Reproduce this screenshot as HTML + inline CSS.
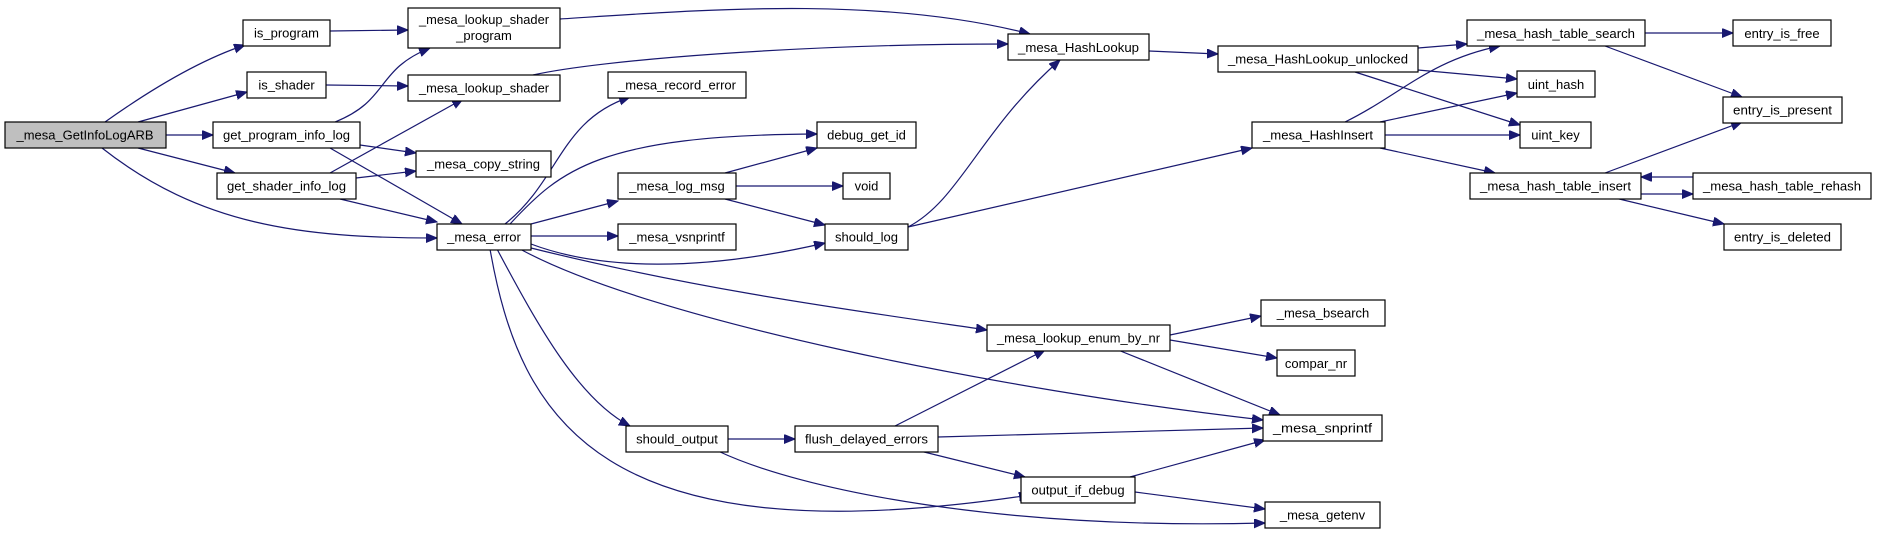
<!DOCTYPE html>
<html><head><meta charset="utf-8"><style>
html,body{margin:0;padding:0;background:#fff;}
svg{display:block;}
text{font-family:"Liberation Sans",sans-serif;font-size:13px;fill:#000;}
rect{fill:#fff;stroke:#000;stroke-width:1.2;}
path{fill:none;stroke:#191970;stroke-width:1.2;}
</style></head><body>
<svg width="1877" height="534" viewBox="0 0 1877 534" xmlns="http://www.w3.org/2000/svg">
<defs>
<marker id="a" markerUnits="userSpaceOnUse" markerWidth="12" markerHeight="10" refX="11" refY="4.5" orient="auto">
<path d="M0,0 L11,4.5 L0,9 Z" style="fill:#191970;stroke:#191970;stroke-width:1"/>
</marker>
</defs>
<g marker-end="url(#a)">
<path d="M105,122 C150,90 200,60 245,45"/>
<path d="M138,122 L247,92"/>
<path d="M166,135 L213,135"/>
<path d="M138,148 L235,173"/>
<path d="M102,148 C200,225 300,238 437,238"/>
<path d="M330,31 L408,30"/>
<path d="M326,85 L408,86"/>
<path d="M335,122 C390,100 375,70 430,48"/>
<path d="M360,145 L416,153"/>
<path d="M330,148 L462,224"/>
<path d="M330,173 L463,99"/>
<path d="M356,178 L416,171"/>
<path d="M340,199 L437,222"/>
<path d="M560,19 C700,10 880,-5 1030,34"/>
<path d="M533,75 C600,60 800,44 1008,44"/>
<path d="M505,224 C560,180 560,120 630,97"/>
<path d="M510,224 C560,170 600,135 817,134"/>
<path d="M531,224 L618,201"/>
<path d="M531,236 L618,236"/>
<path d="M531,244 C600,270 700,272 825,243"/>
<path d="M531,248 C700,290 850,310 987,330"/>
<path d="M520,249 C650,320 1000,390 1263,420"/>
<path d="M497,249 C540,330 580,400 630,426"/>
<path d="M490,249 C520,420 600,560 1030,495"/>
<path d="M725,173 L817,148"/>
<path d="M736,186 L843,186"/>
<path d="M725,199 L825,225"/>
<path d="M908,227 C960,200 980,130 1060,60"/>
<path d="M908,227 L1252,148"/>
<path d="M1149,51 L1218,54"/>
<path d="M1418,48 L1467,44"/>
<path d="M1418,70 L1517,79"/>
<path d="M1355,72 L1520,125"/>
<path d="M1345,122 C1400,95 1430,60 1500,46"/>
<path d="M1380,122 L1517,93"/>
<path d="M1385,135 L1520,135"/>
<path d="M1380,148 L1495,173"/>
<path d="M1645,33 L1733,33"/>
<path d="M1605,46 L1742,97"/>
<path d="M1605,173 L1742,122"/>
<path d="M1693,177 L1641,177"/>
<path d="M1641,194 L1693,194"/>
<path d="M1615,198 L1724,224"/>
<path d="M1170,335 L1261,316"/>
<path d="M1170,340 L1277,358"/>
<path d="M1118,350 L1280,415"/>
<path d="M728,439 L795,439"/>
<path d="M718,451 C800,490 1000,530 1265,523"/>
<path d="M895,426 L1045,350"/>
<path d="M938,437 L1263,428"/>
<path d="M920,451 L1025,477"/>
<path d="M1130,477 L1265,440"/>
<path d="M1135,492 L1265,509"/>
</g>
<g>
<rect x="5" y="122" width="161" height="26" style="fill:#bfbfbf"/><text x="85" y="139.5" text-anchor="middle" textLength="137" lengthAdjust="spacingAndGlyphs">_mesa_GetInfoLogARB</text>
<rect x="243" y="20" width="87" height="26"/><text x="286.5" y="37.5" text-anchor="middle">is_program</text>
<rect x="247" y="72" width="79" height="26"/><text x="286.5" y="89.5" text-anchor="middle">is_shader</text>
<rect x="213" y="122" width="147" height="26"/><text x="286.5" y="139.5" text-anchor="middle" textLength="127" lengthAdjust="spacingAndGlyphs">get_program_info_log</text>
<rect x="217" y="173" width="139" height="26"/><text x="286.5" y="190.5" text-anchor="middle" textLength="119" lengthAdjust="spacingAndGlyphs">get_shader_info_log</text>
<rect x="408" y="8" width="152" height="40"/><text x="484" y="24" text-anchor="middle" textLength="130" lengthAdjust="spacingAndGlyphs">_mesa_lookup_shader</text><text x="484" y="40" text-anchor="middle">_program</text>
<rect x="408" y="75" width="152" height="26"/><text x="484" y="92.5" text-anchor="middle" textLength="130" lengthAdjust="spacingAndGlyphs">_mesa_lookup_shader</text>
<rect x="416" y="151" width="135" height="26"/><text x="483.5" y="168.5" text-anchor="middle" textLength="113" lengthAdjust="spacingAndGlyphs">_mesa_copy_string</text>
<rect x="437" y="224" width="94" height="26"/><text x="484" y="241.5" text-anchor="middle">_mesa_error</text>
<rect x="608" y="72" width="138" height="26"/><text x="677" y="89.5" text-anchor="middle" textLength="118" lengthAdjust="spacingAndGlyphs">_mesa_record_error</text>
<rect x="817" y="122" width="99" height="26"/><text x="866.5" y="139.5" text-anchor="middle">debug_get_id</text>
<rect x="618" y="173" width="118" height="26"/><text x="677" y="190.5" text-anchor="middle">_mesa_log_msg</text>
<rect x="843" y="173" width="47" height="26"/><text x="866.5" y="190.5" text-anchor="middle">void</text>
<rect x="618" y="224" width="118" height="26"/><text x="677" y="241.5" text-anchor="middle">_mesa_vsnprintf</text>
<rect x="825" y="224" width="83" height="26"/><text x="866.5" y="241.5" text-anchor="middle">should_log</text>
<rect x="1008" y="34" width="141" height="26"/><text x="1078.5" y="52" text-anchor="middle" textLength="121" lengthAdjust="spacingAndGlyphs">_mesa_HashLookup</text>
<rect x="1218" y="46" width="200" height="26"/><text x="1318" y="63.5" text-anchor="middle" textLength="180" lengthAdjust="spacingAndGlyphs">_mesa_HashLookup_unlocked</text>
<rect x="1252" y="122" width="133" height="26"/><text x="1318" y="139.5" text-anchor="middle" textLength="110" lengthAdjust="spacingAndGlyphs">_mesa_HashInsert</text>
<rect x="1467" y="20" width="178" height="26"/><text x="1556" y="38" text-anchor="middle" textLength="158" lengthAdjust="spacingAndGlyphs">_mesa_hash_table_search</text>
<rect x="1733" y="20" width="98" height="26"/><text x="1782" y="38" text-anchor="middle">entry_is_free</text>
<rect x="1517" y="71" width="78" height="26"/><text x="1556" y="89" text-anchor="middle">uint_hash</text>
<rect x="1723" y="97" width="119" height="26"/><text x="1782.5" y="114.5" text-anchor="middle" textLength="99" lengthAdjust="spacingAndGlyphs">entry_is_present</text>
<rect x="1520" y="122" width="71" height="26"/><text x="1555.5" y="139.5" text-anchor="middle">uint_key</text>
<rect x="1470" y="173" width="171" height="26"/><text x="1555.5" y="190.5" text-anchor="middle" textLength="151" lengthAdjust="spacingAndGlyphs">_mesa_hash_table_insert</text>
<rect x="1693" y="173" width="178" height="26"/><text x="1782" y="190.5" text-anchor="middle" textLength="158" lengthAdjust="spacingAndGlyphs">_mesa_hash_table_rehash</text>
<rect x="1724" y="224" width="117" height="26"/><text x="1782.5" y="241.5" text-anchor="middle" textLength="97" lengthAdjust="spacingAndGlyphs">entry_is_deleted</text>
<rect x="987" y="325" width="183" height="26"/><text x="1078.5" y="342.5" text-anchor="middle" textLength="163" lengthAdjust="spacingAndGlyphs">_mesa_lookup_enum_by_nr</text>
<rect x="1261" y="300" width="124" height="26"/><text x="1323" y="317.5" text-anchor="middle">_mesa_bsearch</text>
<rect x="1277" y="350" width="78" height="26"/><text x="1316" y="368" text-anchor="middle">compar_nr</text>
<rect x="1263" y="415" width="119" height="26"/><text x="1322.5" y="432.5" text-anchor="middle" textLength="99" lengthAdjust="spacingAndGlyphs">_mesa_snprintf</text>
<rect x="626" y="426" width="102" height="26"/><text x="677" y="443.5" text-anchor="middle">should_output</text>
<rect x="795" y="426" width="143" height="26"/><text x="866.5" y="443.5" text-anchor="middle" textLength="123" lengthAdjust="spacingAndGlyphs">flush_delayed_errors</text>
<rect x="1021" y="477" width="114" height="26"/><text x="1078" y="494.5" text-anchor="middle">output_if_debug</text>
<rect x="1265" y="502" width="115" height="26"/><text x="1322.5" y="519.5" text-anchor="middle">_mesa_getenv</text>
</g>
</svg>
</body></html>
